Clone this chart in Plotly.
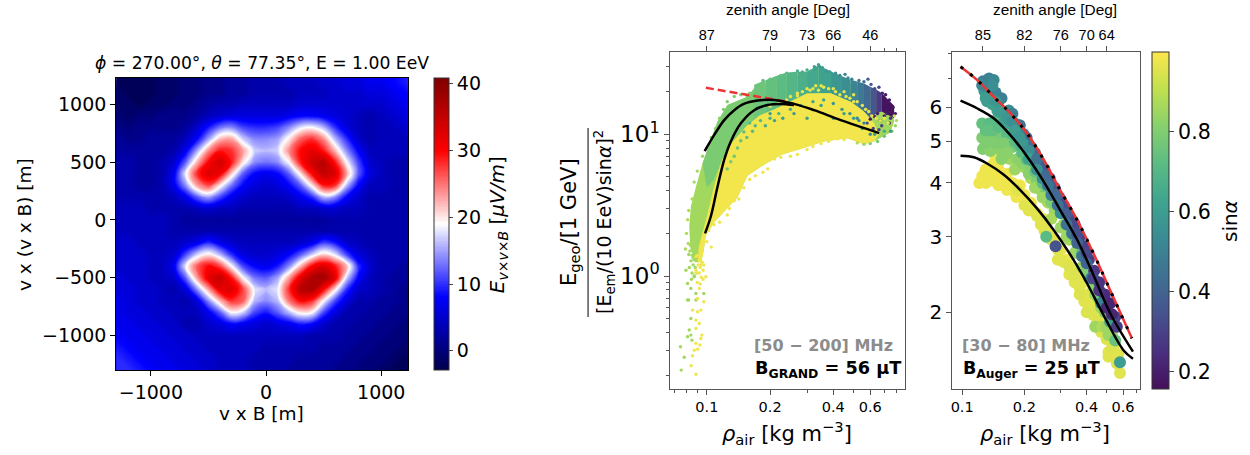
import plotly.graph_objects as go
from plotly.colors import sample_colorscale

# ---------- left panel: grid ----------
grid_x = [-1300,-1200,-1100,-1000,-900,-800,-700,-600,-500,-400,-300,-200,-100,0,100,200,300,400,500,600,700,800,900,1000,1100,1200,1300]
grid_y = [1300,1200,1100,1000,900,800,700,600,500,400,300,200,100,0,-100,-200,-300,-400,-500,-600,-700,-800,-900,-1000,-1100,-1200,-1300]
field = [
[-2,-2,-2,-2,-1,-1,0,0,1,1,2,2,3,3,3,4,4,4,5,5,6,6,7,7,8,9,10],
[-2,-2,-2,-2,-1,-1,0,0,1,1,2,2,3,3,3,4,4,4,5,5,6,6,7,7,8,9,10],
[-1,-2,-2,-2,-1,-1,0,0,1,1,2,2,3,3,3,3,4,4,4,5,5,5,6,6,7,8,9],
[-1,-1,-2,-1,-1,0,0,1,2,3,3,4,4,4,4,4,5,5,5,5,5,5,5,5,6,7,8],
[0,-1,0,0,1,1,1,2,4,5,6,6,6,6,6,7,8,8,7,6,5,4,3,4,5,6,7],
[1,0,1,1,1,1,2,5,9,13,14,11,10,10,11,14,18,19,16,10,6,4,3,4,4,5,6],
[2,1,1,2,2,2,4,8,15,22,23,17,14,14,15,20,26,28,24,16,10,5,3,4,4,4,5],
[2,2,2,2,2,3,7,15,24,29,28,23,17,16,17,24,30,32,29,22,14,8,4,4,4,4,4],
[3,3,2,2,3,5,12,22,30,34,29,20,14,13,14,19,29,34,36,29,19,11,5,4,3,3,3],
[3,3,2,2,3,7,18,28,33,31,21,12,8,7,8,12,20,30,35,33,23,12,6,4,3,3,3],
[3,3,2,2,3,7,14,23,27,20,13,8,6,5,6,8,12,20,29,28,16,8,4,4,3,3,3],
[3,3,3,3,3,4,7,12,15,11,7,5,4,4,4,5,7,10,16,14,8,5,3,3,3,3,3],
[4,4,4,3,3,3,3,4,5,4,4,3,3,3,3,3,4,4,5,5,4,4,3,3,3,3,3],
[4,4,4,4,4,3,2,2,2,2,2,2,2,2,2,2,2,2,2,3,3,3,3,3,3,3,3],
[4,4,4,4,4,3,3,3,3,3,3,3,3,3,3,3,3,3,3,3,3,3,3,3,3,3,3],
[5,5,4,4,4,4,5,7,10,7,5,4,4,4,4,4,5,7,11,9,5,4,3,3,3,3,3],
[5,5,5,4,4,5,11,17,20,16,10,6,5,5,6,8,12,17,21,18,11,6,4,3,3,3,3],
[5,5,5,4,4,7,18,26,30,27,19,11,8,7,9,14,22,30,33,29,22,10,5,3,3,2,2],
[6,5,5,4,4,5,12,23,32,35,29,19,13,12,15,23,32,37,38,32,17,8,4,3,2,2,2],
[6,6,5,5,4,3,6,14,23,32,33,27,18,16,18,28,36,37,30,20,10,5,4,3,2,1,1],
[7,6,5,5,4,4,3,6,14,22,28,26,16,14,16,25,30,28,19,11,6,3,3,2,2,1,1],
[7,6,6,5,5,4,4,4,7,12,19,17,11,9,12,16,20,19,11,6,3,3,2,2,1,1,1],
[7,7,6,6,5,5,3,3,5,6,8,7,6,5,6,7,9,8,5,3,3,2,2,1,1,0,0],
[8,7,7,6,6,5,5,4,4,4,4,4,4,4,4,4,4,3,3,3,2,2,1,1,0,0,0],
[9,8,7,7,6,6,5,5,4,4,4,4,4,3,3,3,3,3,2,2,2,1,1,0,0,-1,-1],
[10,9,8,7,7,6,6,5,5,4,4,4,3,3,3,3,2,2,2,2,1,1,0,0,-1,-2,-2],
[10,10,9,8,7,7,6,6,5,4,4,4,3,3,3,2,2,2,2,1,1,0,0,-1,-2,-2,-2],
]
field_ticks = [0,10,20,30,40]

# ---------- GRAND panel ----------
region_cloud_rho = [.088,.0835,.0824,.0839,.0887,.0954,.1124,.1254,.156,.168,.1943,.2419,.3009,.3417,.3888,.484,.5811,.686,.764,.7797,.749,.6254,.56,.4665,.361,.2901,.2249,.1807,.156,.14,.1209,.1084,.0989,.0965,.094]
region_cloud_y = [1.25,1.55,2.23,3.09,4.27,6.24,12.3,16.1,18.4,21.1,22.9,25.9,26.2,29.2,26.2,22.9,21.1,18.4,16.1,12.3,10.3,8.9,8.5,9.4,8.9,8.0,7.15,5.9,5.1,3.6,2.85,2.4,1.95,1.5,1.25]
region_green_rho = [.0954,.1124,.1254,.156,.168,.178,.155,.133,.118,.108,.1]
region_green_y = [6.24,12.3,16.1,18.4,21.1,13.5,11.5,8.9,6.6,4.8,4.2]
region_yellow_rho = [.0905,.0915,.095,.1,.108,.118,.133,.155,.178,.21,.3,.3888,.484,.56,.6254,.66,.6254,.56,.4665,.361,.2901,.2249,.1807,.156,.14,.1209,.1084,.0989,.0965,.094]
region_yellow_y = [1.25,1.6,2.0,2.63,4.27,6.6,8.9,11.5,13.5,15.0,19.5,19.5,17,14.5,12,10,8.9,8.5,9.4,8.9,8.0,7.15,5.9,5.1,3.6,2.85,2.4,1.95,1.5,1.25]
band_edges = [.168,.19,.215,.24,.27,.30,.34,.39,.44,.484,.52,.56,.6,.64,.68,.78]
band_top = [22.4,24.1,25.9,27.3,27.6,27.8,30.7,27.8,25.7,24.3,23.6,22.8,21.7,20.7,19.6,15.9]
band_bottom = [13.2,14.2,15.1,16,17.3,19,19.5,19.5,18,17,15.8,14.5,13,14,14.5,13]
band_sin = [.76,.74,.72,.7,.67,.64,.62,.58,.55,.51,.47,.42,.36,.28,.17]

grand_rho = [
 .16,.175,.185,.2,.215,.225,.24,.255,.27,.285,.3,.34,.355,.325,.345,.315,.33,.37,.385,.41,.43,.455,.47,.49,.53,.56,.585,.605,.63,.66,.685,.71,.74,.77,.79,
 .0954,.09,.087,.085,.082,.081,.08,.0815,.079,.1,.105,.11,.115,.12,.125,.135,.145,.155,
 .3,.32,.35,.38,.42,.45,.27,.25,.225,.21,.195,.185,.17,.16,.15,.142,.135,.128,.125,.115,.108,.102,.1,.105,
 .52,.56,.6,.65,.7,.76,.79,.8,.78,
 .6,.63,.65,.67,.7,.72,.74,.62,.68,.75,.58,.66,
 .55,.6,.63,.7,.75,.5,.53,.45,.4,.35,.3,.26,.23,.21,.19,.2,
 .33,.36,.3,.4,.45,.5,.27,
 .2,.22,.24,.25,.27,.285,.31,.32,.34,.35,.38,.41,.43,.46,.48,.5,.52,.55,.57,.59,.61,.64,.67,.7,.73,
 .18,.17,.165,.155,.15,.2,.22,.25,.28,.32,.36,.4,.44,.48,.52,.56,.16,.145,.14,.135,.13,.125,
 .0749,.0755,.0780,.0795,.0809,.0809,.0809,.0824,.0818,.0839,.0839,.0839,.0849,.0887,.0887,.0967,.0871,
 .083,.085,.087,.084,.086,.088,.082,.085,.0825,.0845,.087,.089,.086,.0835,
 .0887,.0936,.0967,.0887,.0989,.096,.092,.0903,.0967,.0855,.0903,.0936,.0887,.092,.0887,.0947,.0936,.0887,.0926,.0903,.0871,.0855,.0842,.0887,
 .09,.092,.094,.091,.093,.095,.089,.092,.094,.096,.09,.093,
]
grand_y = [
 19.5,22,24,24.5,25,26,27,26.5,28,27.5,28.5,31,29.5,30,30,28,29,28,27.5,27,26,26.5,25,24.5,24,23.5,24.5,22.5,21,21.5,19.5,19,17.5,15.5,14,
 7,5.5,4.6,3.5,2.9,2.5,2,1.7,1.55,8,9.5,11,13,15,17,18.5,19,18.8,
 7.8,8.2,8.6,8.9,9.3,9.2,7.2,7,6.9,6.7,5.7,5.4,5.1,4.8,4.2,3.5,3.4,3,2.7,2.4,2.3,2.1,1.75,1.6,
 8.7,8.5,8.6,8.9,9.7,10.5,11.5,12.5,13.5,
 12.8,13.3,14,12.5,13.5,14,12,11,11.5,13,12,10.8,
 11,10,10,10.5,10.5,13,12.5,14,13,16,13,14,13,12.5,11.5,14,
 22,21.5,21,21,20,19,19.5,
 15.8,16.6,17.5,18.5,18.7,20,20.5,21,20.5,22,21,20,19,18.5,18,17,17,16,15,14.5,13.5,13,12.5,13,12,
 12.5,11.5,10.5,9.5,10.4,13,14,15,16,17,17.5,16.5,15,14,13,12,12,9,8,7,6.4,5.7,
 .317,.217,.267,1.1,.887,.677,.373,.416,.677,.502,.818,.383,.353,.677,.754,.754,.989,
 1.5,1.4,1.3,1.28,1.2,1.15,1.42,1.05,1.15,.95,1.0,1.05,1.35,1.65,
 1.37,1.196,1.196,1.1,.989,.947,.818,.695,.659,.575,.56,.575,.489,.463,.427,.383,.363,.335,.326,.305,.30,.274,.233,.203,
 1.4,1.3,1.42,1.2,1.15,1.25,1.05,1.05,.98,1.1,.9,.88,
]
grand_sin = [
 .8,.76,.74,.74,.74,.74,.72,.7,.68,.66,.66,.62,.6,.62,.6,.66,.62,.58,.58,.56,.54,.52,.52,.5,.46,.44,.38,.38,.32,.3,.22,.18,.18,.18,.18,
 .84,.86,.86,.88,.88,.88,.88,.88,.88,.82,.82,.82,.82,.8,.8,.8,.8,.8,
 .98,.98,.98,.98,.98,.98,.98,.98,.98,.98,.98,.98,.98,.98,.98,.98,.98,.98,.98,.98,.98,.98,.98,.98,
 .88,.84,.8,.78,.76,.8,.84,.88,.92,
 .17,.17,.2,.17,.2,.2,.25,.3,.3,.25,.35,.3,
 .6,.55,.6,.65,.6,.6,.55,.6,.62,.6,.62,.58,.6,.6,.65,.6,
 .97,.97,.97,.97,.97,.97,.97,
 .97,.97,.97,.97,.97,.97,.97,.97,.97,.97,.97,.97,.97,.97,.97,.97,.97,.97,.97,.97,.97,.97,.97,.97,.97,
 .7,.7,.72,.72,.72,.68,.68,.66,.66,.62,.62,.58,.58,.55,.52,.5,.72,.74,.76,.76,.78,.78,
 .86,.86,.86,.86,.86,.86,.86,.86,.86,.86,.86,.86,.86,.86,.86,.86,.86,
 .86,.86,.86,.86,.86,.86,.86,.86,.86,.86,.86,.86,.86,.86,
 .98,.98,.98,.98,.98,.98,.98,.98,.98,.98,.98,.98,.98,.98,.98,.98,.98,.98,.98,.98,.98,.98,.98,.98,
 .98,.98,.98,.98,.98,.98,.98,.98,.98,.98,.98,.98,
]
grand_red_rho = [.0989,.1254,.156,.1943,.2419]
grand_red_y = [21.3,20,18.9,17.9,17]
grand_fit1_rho = [.0976,.1084,.1209,.135,.15,.1743,.2091,.2601,.324,.4337,.6615]
grand_fit1_y = [7.6,9.9,12.6,14.8,16.4,17.3,17.5,16.4,14.8,12.6,10.2]
grand_fit2_rho = [.098,.1044,.1124,.1209,.13,.1451,.168,.1943,.2249,.2601]
grand_fit2_y = [2.0,2.63,4.27,6.6,8.9,11.95,14.8,16.1,16.4,16.1]
grand_top_ticks = [.1,.2,.3,.4,.6]
grand_top_labels = ["87","79","73","66","46"]

# ---------- Auger panel ----------
yellow_rho = [.121,.13,.14,.15,.13,.14,.15,.16,.145,.165,.18,.183,.175,.19,.2,.215,.23,.245,.26,.28,.3,.32,.34,.36,.385,.4,.43,.45,.48,.5,
 .23,.25,.27,.29,.31,.33,.35,.37,.39,.41,.43,.46,.49,.52,.54,.57,.51,.51,.58,
 .125,.135,.155,.16,.145,.17,.15,.165,.175,.185,.2,.21,.22,.24,.25,.27,.29,.3,.33,.35,.37,.4,.42,.45,.47,.5,.53,.56]
yellow_y = [4.0,4.0,4.05,3.95,4.3,4.4,4.3,4.1,4.55,3.85,3.9,3.71,4.0,3.95,3.75,3.6,3.4,3.3,3.1,2.95,2.8,2.65,2.5,2.4,2.35,2.2,2.1,2.0,1.9,1.85,
 3.35,3.1,2.95,2.8,2.62,2.45,2.35,2.28,2.12,2.05,1.97,1.88,1.8,1.72,1.67,1.6,1.617,1.575,1.445,
 4.15,4.2,4.15,3.95,4.2,4.0,4.45,4.2,3.85,3.85,3.55,3.45,3.45,3.2,3.25,3.0,2.65,2.65,2.55,2.45,2.2,2.0,2.0,1.9,1.8,1.73,1.65,1.52]
yellow_sin = [.98]*24 + [.96]*25 + [.98]*9 + [.96]*9 + [.95]*10
green_rho = [.125,.135,.145,.125,.135,.145,.155,.165,.126,.137,.15,.16,.175,.17,.185,.195,.2,.215,.215,.23,.24,.255,.26,.28,.29,.31,.33,.33,.36,.38,.41,.44,.47,.44,.475,.51,.5,.53,.255,
 .13,.14,.15,.13,.145,.16,.18,.19,.155,.165,.18,.195,.205,.21,.225,.225,.245,.245,.27,.27,.3,.3,.32,.35,.35,.38,.4,.43,.46,.49,.5,.53,.55]
green_y = [5.5,5.5,5.6,5.1,5.1,5.15,5.1,5.2,4.8,4.75,4.8,4.75,4.85,4.55,4.55,4.7,4.35,4.35,4.1,4.05,3.85,3.8,3.6,3.45,3.6,3.2,3.15,2.95,2.8,2.55,2.4,2.2,2.05,1.85,1.85,1.77,2.0,1.85,3.0,
 5.3,5.3,5.4,4.95,4.95,4.95,5,4.9,4.55,4.7,4.3,4.45,4.55,4.2,4.25,3.9,4.0,3.7,3.6,3.3,3.45,3.15,3.0,3.0,2.75,2.75,2.5,2.3,2.15,2,1.85,1.78,1.72]
green_sin = [.74,.72,.72,.8,.8,.8,.78,.72,.8,.82,.82,.82,.78,.85,.82,.72,.85,.8,.87,.8,.85,.75,.87,.85,.7,.85,.72,.87,.8,.85,.85,.85,.85,.85,.88,.85,.85,.85,.72,
 .74,.74,.72,.8,.8,.8,.72,.7,.82,.82,.85,.82,.72,.82,.75,.85,.72,.85,.8,.87,.72,.85,.85,.7,.85,.72,.8,.82,.75,.8,.85,.85,.75]
blue_rho = [.126,.135,.142,.128,.135,.145,.132,.14,.15,.155,.148,.16,.168,.175,.17,.18,.19,.185,.198,.205,.2,.215,.225,.22,.238,.25,.245,.265,.28,.27,.295,.31,.3,.33,.35,.34,.37,.39,.38,.41,.435,.42,.46,.49,.47,.52,.55,.52,
 .14,.125,.13,.145,.152,.16,.165,.175,.18,.19,.195,.21,.21,.23,.23,.255,.26,.285,.29,.32,.32,.36,.36,.4,.4,.43,.46,.5,.53,.56,.283,.58]
blue_y = [6.9,7.0,6.95,6.55,6.6,6.5,6.2,6.1,6.2,6.3,5.9,5.85,5.9,5.8,5.5,5.5,5.45,5.2,5.2,5.1,4.9,4.85,4.7,4.5,4.4,4.3,4.1,4.1,3.9,3.75,3.7,3.55,3.4,3.35,3.2,3.05,3.0,2.85,2.7,2.65,2.5,2.4,2.35,2.2,2.1,2.1,1.95,1.9,
 6.75,6.75,6.3,6.2,5.85,5.55,5.65,5.55,5.3,5.1,4.95,4.75,4.55,4.55,4.3,4.15,3.95,3.75,3.55,3.4,3.2,3.05,2.9,2.75,2.6,2.4,2.25,2.05,1.98,1.85,2.85,1.53]
blue_sin = [.5,.5,.52,.58,.55,.5,.6,.62,.55,.5,.62,.6,.55,.48,.62,.55,.45,.6,.5,.42,.62,.45,.42,.6,.4,.38,.55,.36,.36,.5,.34,.33,.55,.33,.32,.45,.3,.3,.45,.28,.27,.5,.26,.24,.5,.22,.3,.6,
 .55,.52,.6,.58,.6,.62,.58,.55,.6,.58,.58,.55,.62,.45,.55,.42,.45,.42,.45,.38,.45,.34,.4,.32,.4,.3,.26,.22,.22,.28,.35,.6]
auger_top_rho = [.0982,.118,.142,.171,.206,.248,.298,.36,.432,.52,.662]
auger_top_y = [7.46,6.95,6.35,5.81,5.22,4.53,3.85,3.28,2.74,2.25,1.74]
auger_mid_rho = [.0982,.118,.142,.171,.206,.248,.298,.36,.432,.52,.67]
auger_mid_y = [6.22,5.97,5.66,5.17,4.61,4.03,3.46,2.95,2.44,1.99,1.62]
auger_low_rho = [.0982,.1139,.132,.159,.191,.23,.277,.334,.401,.483,.604,.67]
auger_low_y = [4.63,4.59,4.44,4.18,3.85,3.49,3.11,2.72,2.34,1.97,1.63,1.56]
auger_top_ticks = [.126,.2,.3,.4,.5]
auger_top_labels = ["85","82","76","70","64"]

W, H = 1250, 455
SANS = "DejaVu Sans"
HELV = "Liberation Sans"
def dx(a, b): return [a / W, b / W]
def dy(t, b): return [1 - b / H, 1 - t / H]

SEISMIC = [[0, "#00004c"], [0.25, "#0000ff"], [0.5, "#ffffff"], [0.75, "#ff0000"], [1, "#7f0000"]]
SOFT_VIRIDIS = [[0, "#44105a"], [.111, "#4a3080"], [.222, "#46528e"], [.333, "#3f7092"], [.444, "#3a8a93"],
                [.556, "#3fa48f"], [.667, "#5abb84"], [.778, "#86d06e"], [.889, "#c0e04f"], [1, "#fce74c"]]

fig = go.Figure()
fig.add_trace(go.Contour(x=grid_x, y=grid_y, z=field, coloraxis="coloraxis", hoverinfo="skip",
    contours=dict(coloring="fill", start=-2.75, end=40.75, size=0.25, showlines=False),
    line=dict(width=0, smoothing=1.3)))

CMIN, CMAX = 0.157, 1.0
def shade(s):
    return sample_colorscale(SOFT_VIRIDIS, [(s - CMIN) / (CMAX - CMIN)])[0]
def region(r, y, s):
    fig.add_trace(go.Scatter(x=r, y=y, mode="lines", fill="toself", fillcolor=shade(s), line=dict(width=0), xaxis="x2", yaxis="y2", hoverinfo="skip"))

region(region_cloud_rho, region_cloud_y, 0.86)
region(region_green_rho, region_green_y, 0.79)
for i, s in enumerate(band_sin):
    region([band_edges[i], band_edges[i+1], band_edges[i+1], band_edges[i]],
           [band_top[i], band_top[i+1], band_bottom[i+1], band_bottom[i]], s)
region(region_yellow_rho, region_yellow_y, 0.985)

fig.add_trace(go.Scatter(x=grand_rho, y=grand_y, mode="markers", xaxis="x2", yaxis="y2",
    marker=dict(size=3.4, color=grand_sin, coloraxis="coloraxis2", line=dict(width=0)), hoverinfo="skip"))
fig.add_trace(go.Scatter(x=grand_red_rho, y=grand_red_y, mode="lines", xaxis="x2", yaxis="y2", line=dict(color="#ee3333", width=2.5, dash="8px,4px"), hoverinfo="skip"))
for r, y in ((grand_fit1_rho, grand_fit1_y), (grand_fit2_rho, grand_fit2_y)):
    fig.add_trace(go.Scatter(x=r, y=y, mode="lines", xaxis="x2", yaxis="y2", line=dict(color="black", width=2.5, shape="spline"), hoverinfo="skip"))
fig.add_trace(go.Scatter(x=grand_top_ticks, y=[1]*5, mode="markers", marker=dict(opacity=0), xaxis="x3", yaxis="y2", hoverinfo="skip"))

for r, y, s in ((yellow_rho, yellow_y, yellow_sin), (green_rho, green_y, green_sin), (blue_rho, blue_y, blue_sin)):
    fig.add_trace(go.Scatter(x=r, y=y, mode="markers", xaxis="x4", yaxis="y4",
        marker=dict(size=12, color=s, coloraxis="coloraxis2", line=dict(width=0)), hoverinfo="skip"))
for r, y in ((auger_mid_rho, auger_mid_y), (auger_low_rho, auger_low_y)):
    fig.add_trace(go.Scatter(x=r, y=y, mode="lines", xaxis="x4", yaxis="y4", line=dict(color="black", width=2.5, shape="spline"), hoverinfo="skip"))
fig.add_trace(go.Scatter(x=auger_top_rho, y=auger_top_y, mode="lines", xaxis="x4", yaxis="y4", line=dict(color="#ee3333", width=2.5, shape="spline"), hoverinfo="skip"))
fig.add_trace(go.Scatter(x=auger_top_rho, y=auger_top_y, mode="lines", xaxis="x4", yaxis="y4", line=dict(color="black", width=3, shape="spline", dash="3px,9px"), hoverinfo="skip"))
fig.add_trace(go.Scatter(x=auger_top_ticks, y=[3]*5, mode="markers", marker=dict(opacity=0), xaxis="x5", yaxis="y4", hoverinfo="skip"))

def frame(color="#444"):
    return dict(showgrid=False, zeroline=False, showline=True, linecolor=color, linewidth=1, mirror=True, ticks="outside", tickcolor=color, ticklen=5, tickwidth=1)

black = frame("#000")
gray = frame("#555")
x_minor_grand = [.07,.08,.09,.3,.5,.7,.8]
y_minor_grand = [.2,.3,.4,.5,.6,.7,.8,.9,2,3,4,5,6,7,8,9,20,30]
x_minor_auger = [.3,.5,.7]
y_minor_auger = [7,8]

fig.update_layout(
    width=W, height=H, autosize=False, margin=dict(l=0, r=0, t=0, b=0), paper_bgcolor="white", plot_bgcolor="white",
    showlegend=False, font=dict(family=SANS, color="black"),
    coloraxis=dict(cmin=-2.74, cmax=41, colorscale=SEISMIC,
        colorbar=dict(x=432.7/W, xanchor="left", y=1-370/H, yanchor="bottom", len=292/H, lenmode="fraction", thickness=15.3, thicknessmode="pixels",
            xpad=0, ypad=0, outlinewidth=1, outlinecolor="#333", ticks="outside", ticklen=4, tickvals=field_ticks, tickfont=dict(size=19, family=SANS))),
    coloraxis2=dict(cmin=CMIN, cmax=CMAX, colorscale=SOFT_VIRIDIS,
        colorbar=dict(x=1151.7/W, xanchor="left", y=1-389/H, yanchor="bottom", len=337.3/H, lenmode="fraction", thickness=16.6, thicknessmode="pixels",
            xpad=0, ypad=0, outlinewidth=1, outlinecolor="#333", ticks="outside", ticklen=5, tickvals=[.2,.4,.6,.8], ticktext=["0.2","0.4","0.6","0.8"], tickfont=dict(size=20.5, family=SANS))),
    xaxis=dict(domain=dx(114.3, 406.7), range=[-1302, 1233], anchor="y", tickvals=[-1000,0,1000], tickfont=dict(size=19), **black),
    yaxis=dict(domain=dy(78.3, 370), range=[-1299, 1227], anchor="x", tickvals=[-1000,-500,0,500,1000], tickfont=dict(size=19), **black),
    xaxis2=dict(domain=dx(669.3, 904.7), type="log", range=[-1.1745, -0.0552], anchor="y2", tickvals=[.1,.2,.4,.6], ticktext=["0.1","0.2","0.4","0.6"], tickfont=dict(size=14.5),
        minor=dict(ticks="outside", tickmode="array", tickvals=x_minor_grand, ticklen=3, tickcolor="#555"), **gray),
    yaxis2=dict(domain=dy(51.7, 389), type="log", range=[-0.797, 1.583], anchor="x2", tickvals=[1,10], ticktext=["10<sup>0</sup>","10<sup>1</sup>"], tickfont=dict(size=23),
        minor=dict(ticks="outside", tickmode="array", tickvals=y_minor_grand, ticklen=3, tickcolor="#555"), **gray),
    xaxis3=dict(domain=dx(669.3, 904.7), type="log", range=[-1.1745, -0.0552], anchor="y2", overlaying="x2", side="top", tickvals=grand_top_ticks, ticktext=grand_top_labels,
        tickfont=dict(size=14.5, family=HELV), showgrid=False, zeroline=False, ticks="outside", ticklen=5, tickcolor="#555",
        minor=dict(ticks="outside", tickmode="array", tickvals=[.7,.8], ticklen=3, tickcolor="#555")),
    xaxis4=dict(domain=dx(951.7, 1140), type="log", range=[-1.0483, -0.139], anchor="y4", tickvals=[.1,.2,.4,.6], ticktext=["0.1","0.2","0.4","0.6"], tickfont=dict(size=14.5),
        minor=dict(ticks="outside", tickmode="array", tickvals=x_minor_auger, ticklen=3, tickcolor="#555"), **gray),
    yaxis4=dict(domain=dy(51.7, 389), type="log", range=[0.1225, 0.9076], anchor="x4", tickvals=[2,3,4,5,6], ticktext=["2","3","4","5","6"], tickfont=dict(size=20),
        minor=dict(ticks="outside", tickmode="array", tickvals=y_minor_auger, ticklen=3, tickcolor="#555"), **gray),
    xaxis5=dict(domain=dx(951.7, 1140), type="log", range=[-1.0483, -0.139], anchor="y4", overlaying="x4", side="top", tickvals=auger_top_ticks, ticktext=auger_top_labels,
        tickfont=dict(size=14.5, family=HELV), showgrid=False, zeroline=False, ticks="outside", ticklen=5, tickcolor="#555"),
)

def note(x, y, text, size, angle=0, xanchor="center", color="black", family=SANS):
    fig.add_annotation(xref="paper", yref="paper", x=x/W, y=1-y/H, text=text, showarrow=False, textangle=angle,
                       xanchor=xanchor, yanchor="middle", font=dict(size=size, color=color, family=family), borderpad=0)

note(260, 63, "<i>ϕ</i> = 270.00°, <i>θ</i> = 77.35°, E = 1.00 EeV", 17.2)
note(260, 413, "v x B [m]", 18.5)
note(22, 224, "v x (v x B) [m]", 18.5, angle=-90)
note(497, 225, "<i>E</i><sub><i>v×v×B</i></sub> [<i>μV/m</i>]", 20, angle=-90)
note(787.5, 9, "zenith angle [Deg]", 15.4, family=HELV)
note(1055, 9, "zenith angle [Deg]", 15.4, family=HELV)
note(786, 433, "<i>ρ</i><sub>air</sub> [kg m<sup>−3</sup>]", 21)
note(1045, 433, "<i>ρ</i><sub>air</sub> [kg m<sup>−3</sup>]", 21)
note(569, 222, "E<sub>geo</sub>/[1 GeV]", 21, angle=-90)
note(603, 222, "[E<sub>em</sub>/(10 EeV)sin<i>α</i>]<sup>2</sup>", 19, angle=-90)
note(1230, 221, "sin<i>α</i>", 20, angle=-90)
note(893, 345.5, "<b>[50 − 200] MHz</b>", 16, xanchor="right", color="#8c8c8c")
note(901, 369, "<b>B<sub>GRAND</sub> = 56 μT</b>", 17.7, xanchor="right")
note(961, 345.5, "<b>[30 − 80] MHz</b>", 16, xanchor="left", color="#8c8c8c")
note(962, 369, "<b>B<sub>Auger</sub> = 25 μT</b>", 17.5, xanchor="left")
fig.add_shape(type="line", xref="paper", yref="paper", x0=587/W, x1=587/W, y0=1-128/H, y1=1-317/H, line=dict(color="black", width=1))

fig.write_html("out.html", config=dict(displayModeBar=False), post_script="document.body.style.margin='0';")
